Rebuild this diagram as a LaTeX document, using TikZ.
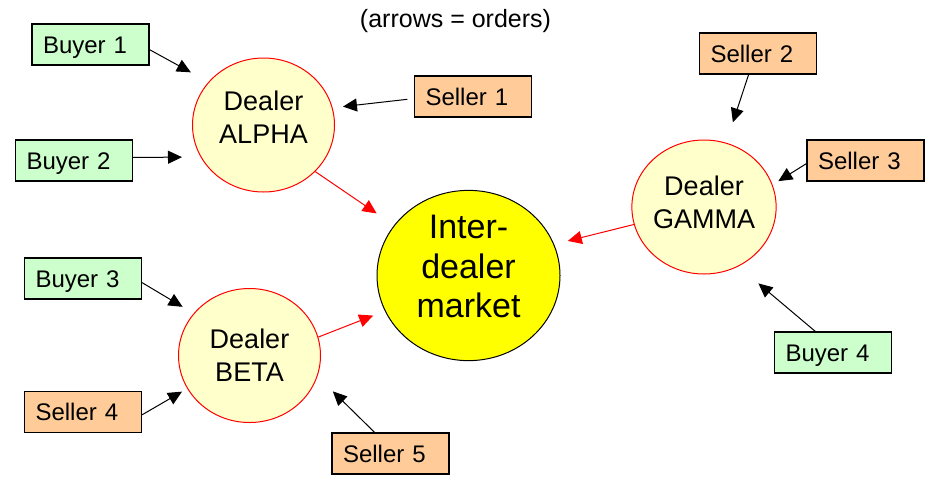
\documentclass[tikz,border=0pt]{standalone}
\usepackage{fontspec}
\setmainfont{Liberation Sans}
\usepackage{xcolor}
\usepackage{tikz}
\usetikzlibrary{positioning,shapes.geometric,arrows.meta}
\definecolor{BuyerGreen}{HTML}{CCFFCC}
\definecolor{SellerOrange}{HTML}{FFCC99}
\definecolor{DealerCream}{HTML}{FFFFCC}
\definecolor{MarketYellow}{HTML}{FFFF00}

\begin{document}
\begin{tikzpicture}[
      x=0.5pt, y=-0.5pt,
      every node/.style={align=center},
      party/.style={draw, line width=0.6pt, minimum width=58.5pt, minimum height=20.5pt, text width=47.5pt, inner xsep=5.5pt, inner ysep=0pt, align=left, text height=8.6pt, text depth=0pt, font=\fontsize{12}{14}\selectfont},
      buyer/.style={party, fill=BuyerGreen},
      seller/.style={party, fill=SellerOrange},
      dealer/.style={ellipse, draw=red, line width=0.5pt, fill=DealerCream, minimum width=71pt, minimum height=67pt, inner sep=0pt, font=\fontsize{13.5}{16.5}\selectfont},
      market/.style={ellipse, draw, line width=0.5pt, fill=MarketYellow, minimum width=91.5pt, minimum height=82.5pt, inner sep=0pt, font=\fontsize{17}{19.75}\selectfont},
      order/.style={line width=0.5pt, -{Triangle[length=7pt, width=6.5pt]}},
      flow/.style={order, red}
    ]
      \useasboundingbox (0,0) rectangle (935,482);
      \node[anchor=base, font=\fontsize{12.5}{14}\selectfont] (title) at (455.5,27) {(arrows = orders)};
      % dealers and the market
      \node[dealer, text depth=7.5pt] (alpha) at (263.5,125) {Dealer\\ALPHA};
      \node[dealer] (beta) at (249.5,355.5) {Dealer\\BETA};
      \node[dealer, text depth=4.5pt] (gamma) at (704,207) {Dealer\\GAMMA};
      \node[market, text depth=9pt] (market) at (468.5,275.5) {Inter-\\dealer\\market};
      % customers
      \node[buyer] (buyer1) at (90.5,44.5) {Buyer 1};
      \node[buyer] (buyer2) at (74,160.5) {Buyer 2};
      \node[buyer] (buyer3) at (83,278.5) {Buyer 3};
      \node[seller, below=45.5pt of buyer3] (seller4) {Seller 4};
      \node[buyer] (buyer4) at (833,352.5) {Buyer 4};
      \node[seller] (seller1) at (473,96.5) {Seller 1};
      \node[seller] (seller2) at (758,53.5) {Seller 2};
      \node[seller] (seller3) at (865.5,160.5) {Seller 3};
      \node[seller] (seller5) at (390.5,453.5) {Seller 5};
      % orders to the dealers
      \draw[order, shorten >=10pt] (buyer1.-5) -- (alpha.142);
      \draw[order, shorten >=9.3pt] (buyer2.3) -- (alpha.207);
      \draw[order, shorten <=3.3pt, shorten >=5.2pt] (seller1.182) -- (alpha.14);
      \draw[order, shorten >=6.4pt] (buyer3.-4) -- (beta.143);
      \draw[order, shorten >=3pt] (seller4.-3) -- (beta.208);
      \draw[order, shorten >=10.75pt] (seller5.127) -- (beta.-17);
      \draw[order, shorten >=10.75pt] (seller2.246) -- (gamma.71);
      \draw[order, shorten >=3.4pt] (seller3.183) -- (gamma.18);
      \draw[order, shorten >=13.15pt] (buyer4.130) -- (gamma.300);
      % orders to the inter-dealer market
      \draw[flow, shorten >=10.5pt] (alpha.-42) -- (market.146);
      \draw[flow, shorten >=6.25pt] (beta.15) -- (market.203);
      \draw[flow, shorten >=7pt] (gamma.194) -- (market.20);
    \end{tikzpicture}
\end{document}
